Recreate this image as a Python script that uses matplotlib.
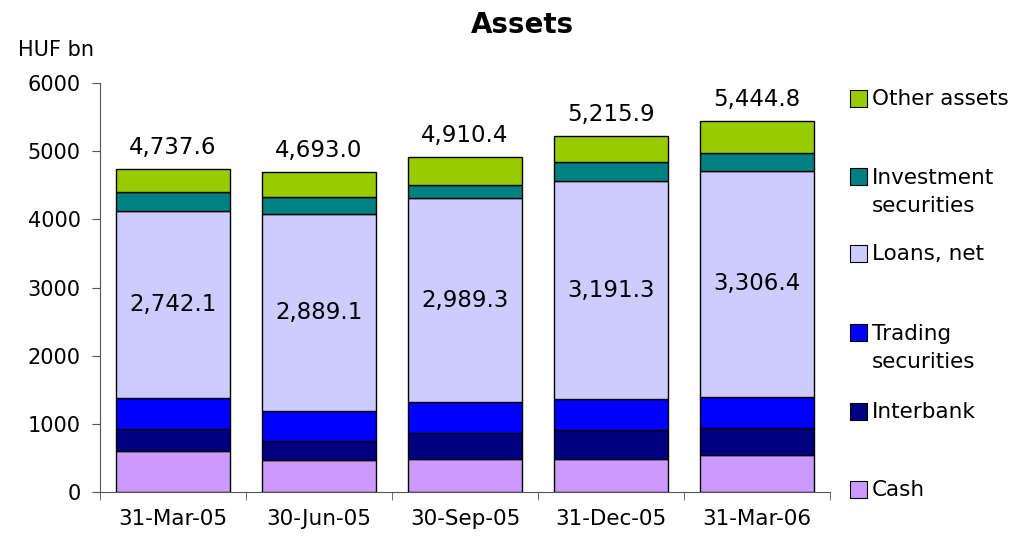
import matplotlib
matplotlib.use("Agg")
import matplotlib.pyplot as plt
from matplotlib.patches import Rectangle
import numpy as np

categories = ["31-Mar-05", "30-Jun-05", "30-Sep-05", "31-Dec-05", "31-Mar-06"]
cash = [605, 463, 478, 478, 541]
interbank = [322, 288, 390, 429, 400]
trading = [458, 443, 453, 458, 458]
loans = [2742.1, 2889.1, 2989.3, 3191.3, 3306.4]
investment = [270, 240, 200, 285, 270]
other = [340.5, 369.9, 400.1, 374.6, 469.4]
totals = [4737.6, 4693.0, 4910.4, 5215.9, 5444.8]

series = [
    ("Cash", cash, "#CC99FF"),
    ("Interbank", interbank, "#000080"),
    ("Trading\nsecurities", trading, "#0000FF"),
    ("Loans, net", loans, "#CCCCFF"),
    ("Investment\nsecurities", investment, "#008080"),
    ("Other assets", other, "#99CC00"),
]

plt.rcParams['font.family'] = ['DejaVu Sans']
W, H = 1028, 546
fig = plt.figure(figsize=(W / 100, H / 100), dpi=100)
ax = fig.add_axes([100 / W, 1 - 492 / H, 730 / W, (492 - 83) / H])

x = np.arange(len(categories))
bottom = np.zeros(len(categories))
for name, vals, col in series:
    ax.bar(x, vals, width=0.775, bottom=bottom, color=col, edgecolor="black", linewidth=1.0)
    bottom += np.array(vals)

for i in range(len(categories)):
    lb = cash[i] + interbank[i] + trading[i]
    ax.text(x[i], lb + loans[i] / 2, f"{loans[i]:,.1f}", ha="center", va="center",
            fontsize=16.5)
    ax.text(x[i], totals[i] + 150, f"{totals[i]:,.1f}", ha="center", va="bottom",
            fontsize=16.5)

ax.set_xlim(-0.5, 4.5)
ax.set_ylim(0, 6000)
ax.set_yticks(range(0, 6001, 1000))
ax.set_xticks(x)
ax.set_xticklabels(categories, fontsize=15.5)
ax.set_xticks(np.arange(-0.5, 4.6, 1), minor=True)
ax.tick_params(axis="x", which="major", length=0, pad=12)
ax.tick_params(axis="x", which="minor", length=6, color="#555555", direction="out")
ax.tick_params(axis="y", labelsize=15, length=6, color="#555555", direction="out", pad=8)
for s in ["top", "right"]:
    ax.spines[s].set_visible(False)
ax.spines["left"].set_color("#555555")
ax.spines["bottom"].set_color("#555555")

fig.text(18 / W, 1 - 50 / H, "HUF bn", fontsize=15, ha="left", va="center")
fig.text(522 / W, 1 - 25 / H, "Assets", fontsize=20, fontweight="bold", ha="center", va="center")

legend_y = {"Other assets": 99, "Investment\nsecurities": 192, "Loans, net": 254,
            "Trading\nsecurities": 348, "Interbank": 412, "Cash": 490}
for name, vals, col in series:
    yc = legend_y[name]
    first_line_y = yc if "\n" not in name else yc - 15
    fig.patches.append(Rectangle((850 / W, 1 - (first_line_y + 8) / H), 17 / W, 17 / H,
                                 transform=fig.transFigure, facecolor=col,
                                 edgecolor="black", linewidth=0.8))
    fig.text(872 / W, 1 - yc / H, name, fontsize=15.5, ha="left", va="center",
             linespacing=1.45)

fig.savefig("out.png", dpi=100)
